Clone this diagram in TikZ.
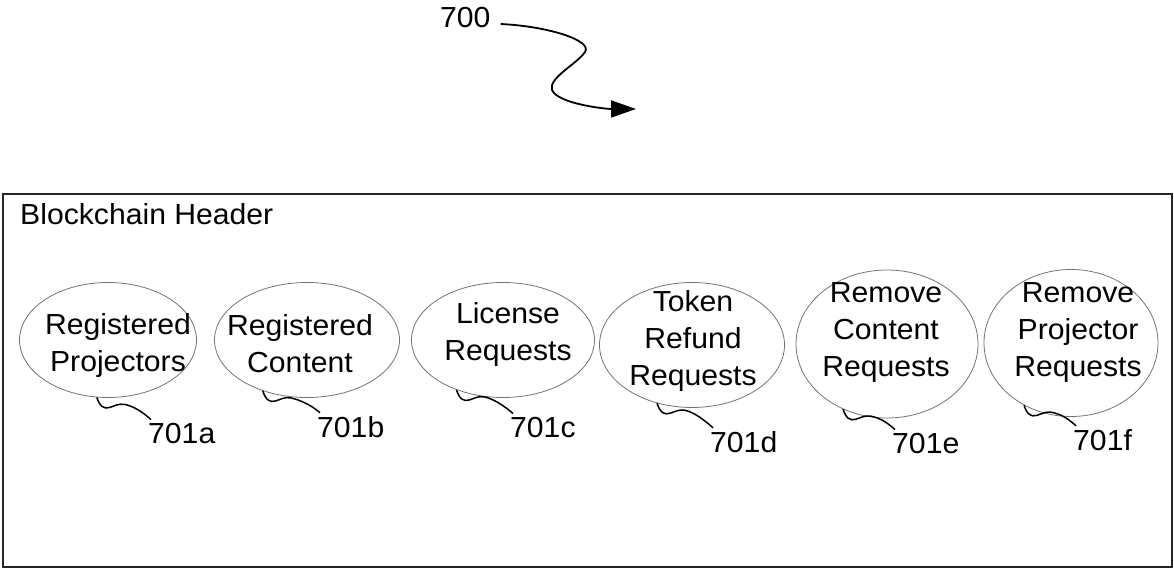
\documentclass[tikz,border=0pt]{standalone}
\usepackage{fontspec}
\setmainfont{Liberation Sans}[FakeStretch=1.04]
\usetikzlibrary{arrows.meta,calc,shapes.geometric}
\begin{document}
\begin{tikzpicture}[x=1pt,y=-1pt,
  txt/.style={font=\fontsize{29}{37}\selectfont, inner sep=0pt, align=center},
  ell/.style={ellipse, draw=black!55, line width=0.8pt, inner sep=0pt},
  lead/.style={draw=black, line width=1.5pt},
  frame/.style={draw=black!85, line width=1.6pt}]
\useasboundingbox (0,0) rectangle (1174,569);

% reference numeral with its wavy arrow
\node[txt, anchor=base west] (n700) at (440,28) {700};
\coordinate (tip700) at (636,109);
\draw[lead, line width=1.8pt, -{Triangle[length=25pt,width=17pt]}]
  ($(n700.east)+(10,6)$) .. controls +(45,2) and +(8,-12) .. (585,52)
  .. controls +(-8,12) and +(-4,-12) .. (552,90)
  .. controls +(6,14) and +(-30,0) .. (tip700);

% header block
\draw[frame] (3,194) rectangle (1172,567);
\node[txt, anchor=base west] (title) at (20,225) {Blockchain Header};

% header fields
\node[ell, minimum width=177pt, minimum height=115pt] (e1) at (108,340) {};
\node[ell, minimum width=185pt, minimum height=115pt] (e2) at (307,340) {};
\node[ell, minimum width=183pt, minimum height=115pt] (e3) at (503,340) {};
\node[ell, minimum width=185pt, minimum height=125pt] (e4) at (692,345) {};
\node[ell, minimum width=182pt, minimum height=148pt] (e5) at (887,344) {};
\node[ell, minimum width=174pt, minimum height=147pt] (e6) at (1071,343) {};

\node[txt, anchor=north] (t1) at (118,313) {Registered\\Projectors};
\node[txt, anchor=north] (t2) at (300,314) {Registered\\Content};
\node[txt, anchor=north] (t3) at (508,302) {License\\Requests};
\node[txt, anchor=north] (t4) at (693,290) {Token\\Refund\\Requests};
\node[txt, anchor=north] (t5) at (886,282) {Remove\\Content\\Requests};
\node[txt, anchor=north] (t6) at (1078,282) {Remove\\Projector\\Requests};

% reference labels
\node[txt, anchor=base west] (l1) at (148,443) {701a};
\node[txt, anchor=base west] (l2) at (317,437) {701b};
\node[txt, anchor=base west] (l3) at (510,437) {701c};
\node[txt, anchor=base west] (l4) at (710,452) {701d};
\node[txt, anchor=base west] (l5) at (892,453) {701e};
\node[txt, anchor=base west] (l6) at (1073,450) {701f};

% leader lines from each field to its label
\foreach \e/\a/\l in {e1/-101/l1, e2/-131/l2, e3/-133/l3, e4/-121/l4, e5/-124/l5, e6/-127/l6}{
  \draw[lead] (\e.\a) .. controls +(3,9) and +(-6,2) .. ++(13,10)
    .. controls +(6,-2) and +(-6,-1) .. ++(15,-3)
    .. controls +(9,2) and +(-9,-8) .. ($(\l.north west)+(3,-3)$);
}
\end{tikzpicture}
\end{document}
